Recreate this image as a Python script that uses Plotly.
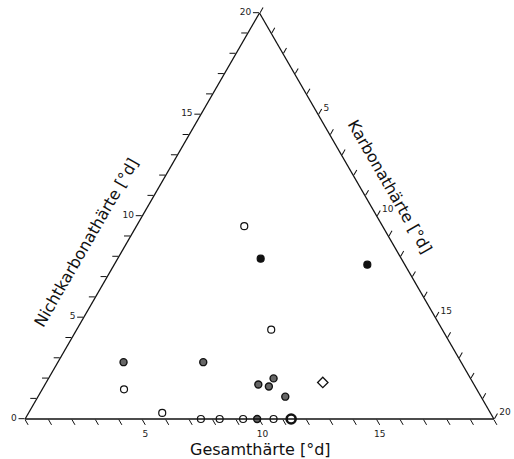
import plotly.graph_objects as go

TOTAL = 20
# Gesamthärte (°d) and Nichtkarbonathärte (°d) per sample group
open_gesamt = [14.1, 12.7, 4.95, 6.0, 7.5, 8.3, 9.3, 10.6]
open_nicht = [9.5, 4.4, 1.46, 0.3, 0.0, 0.0, 0.0, 0.0]

dot_gesamt = [5.6, 9.0, 10.8, 11.2, 11.6, 11.65, 9.9]
dot_nicht = [2.8, 2.8, 1.7, 1.6, 2.0, 1.1, 0.0]

filled_gesamt = [14.0, 18.4]
filled_nicht = [7.9, 7.6]

diamond_gesamt = [13.6]
diamond_nicht = [1.8]

bold_gesamt = [11.35]
bold_nicht = [0.0]

tick_values = list(range(0, 21))
labelled = [5, 10, 15]


def tern(g, n):
    a = list(n)                        # Nichtkarbonathärte
    b = [TOTAL - x for x in g]         # complement of Gesamthärte
    c = [x - y for x, y in zip(g, n)]  # Karbonathärte
    return a, b, c


fig = go.Figure()


def add(g, n, symbol, fill, size, lw):
    a, b, c = tern(g, n)
    fig.add_trace(go.Scatterternary(
        a=a, b=b, c=c, mode="markers",
        marker=dict(symbol=symbol, size=size, color=fill,
                    line=dict(color="#111111", width=lw)),
        showlegend=False, cliponaxis=False))


add(open_gesamt, open_nicht, "circle", "white", 7, 1.2)
add(dot_gesamt, dot_nicht, "circle", "#666666", 7, 1.4)
add(filled_gesamt, filled_nicht, "circle", "#111111", 7, 1.2)
add(diamond_gesamt, diamond_nicht, "diamond", "white", 8, 1.3)
add(bold_gesamt, bold_nicht, "circle", "white", 9, 2.6)

a_text = [str(v) if v in [0] + labelled + [20] else "" for v in tick_values]
b_text = [str(TOTAL - v) if (TOTAL - v) in labelled else "" for v in tick_values]
c_text = [str(v) if v in labelled + [20] else "" for v in tick_values]

axis_common = dict(min=0, showgrid=False, linecolor="#111111", linewidth=1.3,
                   ticks="outside", ticklen=6, tickcolor="#111111", tickwidth=1,
                   tickmode="array", tickvals=tick_values,
                   tickfont=dict(size=9, color="#222222", family="DejaVu Sans"),
                   title=dict(text=""))

fig.update_layout(
    width=514, height=459,
    margin=dict(l=0, r=0, t=0, b=0),
    paper_bgcolor="white",
    showlegend=False,
    ternary=dict(
        sum=TOTAL,
        bgcolor="white",
        domain=dict(x=[25 / 514, 494 / 514], y=[40 / 459, 446 / 459]),
        aaxis=dict(axis_common, ticktext=a_text),
        baxis=dict(axis_common, ticktext=b_text),
        caxis=dict(axis_common, ticktext=c_text),
    ),
    font=dict(family="DejaVu Sans", color="#111111"),
    annotations=[
        dict(text="Nichtkarbonathärte [°d]", x=86 / 514, y=1 - 242 / 459,
             xref="paper", yref="paper", showarrow=False, textangle=-60,
             xanchor="center", yanchor="middle", font=dict(size=16)),
        dict(text="Karbonathärte [°d]", x=390 / 514, y=1 - 186 / 459,
             xref="paper", yref="paper", showarrow=False, textangle=60,
             xanchor="center", yanchor="middle", font=dict(size=16)),
        dict(text="Gesamthärte [°d]", x=260 / 514, y=1 - 449 / 459,
             xref="paper", yref="paper", showarrow=False,
             xanchor="center", yanchor="middle", font=dict(size=16)),
    ],
)

fig.write_html("out.html")
